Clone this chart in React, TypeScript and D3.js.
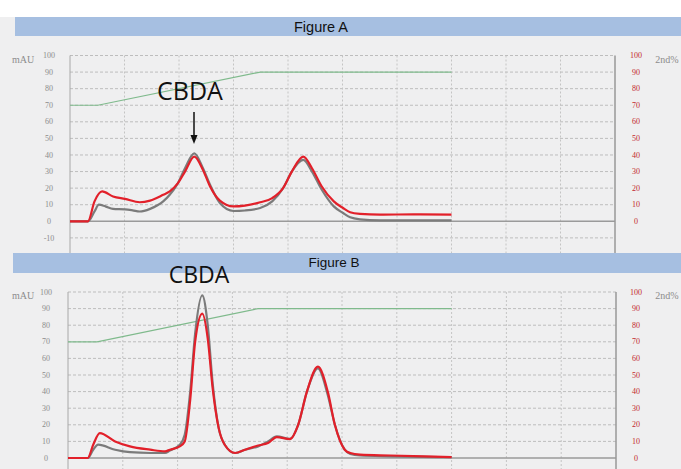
import React from 'react'
import * as d3 from 'd3'

// x in minutes (0-10 grid), y in mAU / 2nd%
const xGrid = [0, 1, 2, 3, 4, 5, 6, 7, 8, 9, 10]
const leftTicksA = [-10, 0, 10, 20, 30, 40, 50, 60, 70, 80, 90, 100]
const leftTicksB = [0, 10, 20, 30, 40, 50, 60, 70, 80, 90, 100]
const rightTicks = [0, 10, 20, 30, 40, 50, 60, 70, 80, 90, 100]
const gridA = [-20, -10, 0, 10, 20, 30, 40, 50, 60, 70, 80, 90, 100]
const gridB = [0, 10, 20, 30, 40, 50, 60, 70, 80, 90, 100]

const gradientA = [[0, 70], [0.51, 70], [3.49, 90], [7.0, 90]]
const grayA = [
  [0, 0], [0.33, 0], [0.45, 6], [0.53, 10], [0.65, 9], [0.79, 7.5], [1.01, 7.2], [1.15, 6.6],
  [1.28, 5.9], [1.47, 7.5], [1.71, 12], [1.83, 16], [1.98, 23], [2.11, 32], [2.28, 41],
  [2.44, 32], [2.57, 22], [2.75, 11], [3.0, 6.2], [3.21, 6.5], [3.49, 8], [3.71, 12],
  [3.91, 20], [4.07, 30], [4.28, 37], [4.44, 30], [4.62, 19], [4.84, 9], [5.01, 5],
  [5.14, 2.4], [5.32, 1.2], [5.69, 0.6], [7.0, 0.5],
]
const redA = [
  [0, 0], [0.33, 0], [0.45, 12], [0.59, 18], [0.79, 15], [1.01, 13.5], [1.28, 11.5],
  [1.47, 12.5], [1.71, 16], [1.83, 18], [1.98, 23], [2.11, 30], [2.28, 39], [2.44, 31],
  [2.57, 21], [2.75, 12.5], [3.0, 9], [3.21, 9.5], [3.49, 11.5], [3.71, 14], [3.91, 20],
  [4.07, 30], [4.28, 39], [4.44, 32], [4.62, 21], [4.84, 12], [5.01, 8], [5.14, 5.5],
  [5.32, 4.5], [5.69, 4], [6.3, 4.2], [7.0, 4],
]

const gradientB = [[0, 70], [0.53, 70], [3.47, 90], [7.0, 90]]
const grayB = [
  [0, 0], [0.36, 0], [0.46, 5], [0.55, 8], [0.86, 5], [1.13, 3.5], [1.5, 3], [1.77, 3],
  [1.86, 4.5], [2.04, 8], [2.13, 14], [2.23, 40], [2.32, 75], [2.45, 98], [2.55, 80],
  [2.64, 45], [2.75, 18], [2.86, 8], [3.05, 3], [3.23, 5], [3.47, 7], [3.65, 10],
  [3.81, 13], [4.05, 11.5], [4.2, 20], [4.36, 40], [4.56, 54], [4.74, 38], [4.87, 20],
  [5.05, 5], [5.15, 2.5], [5.33, 1.5], [5.88, 1], [7.0, 0.5],
]
const redB = [
  [0, 0], [0.36, 0], [0.46, 8], [0.58, 15], [0.86, 10], [1.13, 7], [1.5, 5], [1.77, 4],
  [1.86, 5], [2.04, 7], [2.13, 10], [2.23, 35], [2.32, 70], [2.45, 87], [2.55, 72],
  [2.64, 42], [2.75, 18], [2.86, 8], [3.05, 3], [3.23, 5], [3.47, 7.5], [3.65, 9],
  [3.81, 12.6], [4.05, 11.4], [4.2, 20], [4.36, 40], [4.56, 55], [4.74, 40], [4.87, 20],
  [5.05, 5], [5.15, 3], [5.33, 2], [5.88, 1.5], [7.0, 0.5],
]

const serif = '"Liberation Serif", "DejaVu Serif", serif'
const sans = '"Liberation Sans", Arial, sans-serif'

function Panel(props) {
  const { x0, x1, yTop, yZero, yBottom, leftTicks, grid, gray, red, green, leftX } = props
  const x = d3.scaleLinear().domain([0, 10]).range([x0, x1])
  const y = d3.scaleLinear().domain([0, 100]).range([yZero, yTop])
  const line = d3.line<number[]>()
    .x(d => x(d[0]))
    .y(d => y(d[1]))
    .curve(d3.curveMonotoneX)
  const lin = d3.line<number[]>().x(d => x(d[0])).y(d => y(d[1]))

  return (
    <g>
      {grid.filter(v => v !== 0).map(v => (
        <line key={'h' + v} x1={x0} x2={x1} y1={y(v)} y2={y(v)}
          stroke="#bdbdbd" strokeWidth={1} strokeDasharray="3,2" />
      ))}
      {xGrid.slice(1, -1).map(v => (
        <line key={'v' + v} x1={x(v)} x2={x(v)} y1={y(100)} y2={yBottom}
          stroke="#c4c4c4" strokeWidth={1} strokeDasharray="2,2" />
      ))}
      <line x1={x0} x2={x1} y1={y(0)} y2={y(0)} stroke="#9a9a9a" strokeWidth={1.5} />
      <line x1={x0} x2={x0} y1={y(100)} y2={yBottom} stroke="#a8a8a8" strokeWidth={1} />
      <line x1={x1} x2={x1} y1={y(100)} y2={yBottom} stroke="#999" strokeWidth={1.5} />

      <path d={lin(green) || ''} fill="none" stroke="#7fba8c" strokeWidth={1.2} />
      <path d={line(gray) || ''} fill="none" stroke="#7b7b7b" strokeWidth={2.2} />
      <path d={line(red) || ''} fill="none" stroke="#e2202a" strokeWidth={2.2} />

      {leftTicks.map(v => (
        <text key={'l' + v} x={leftX} y={y(v)} dy="0.33em" textAnchor="middle"
          fontFamily={serif} fontSize={8} fill="#8c8c8c">{v}</text>
      ))}
      {rightTicks.map(v => (
        <text key={'r' + v} x={636} y={y(v)} dy="0.33em" textAnchor="middle"
          fontFamily={serif} fontSize={8} fill="#c2282e">{v}</text>
      ))}
      <text x={23} y={y(100) + 4} dy="0.33em" textAnchor="middle" fontFamily={serif}
        fontSize={10} fill="#8c8c8c">mAU</text>
      <text x={667} y={y(100) + 4} dy="0.33em" textAnchor="middle" fontFamily={serif}
        fontSize={10} fill="#8c8c8c">2nd%</text>
    </g>
  )
}

export default function App() {
  return (
    <svg width={681} height={469} style={{ position: 'absolute', left: 0, top: 0 }}>
      <rect x={0} y={0} width={681} height={469} fill="#efeff0" />
      <rect x={0} y={0} width={681} height={17} fill="#ffffff" />

      <rect x={15} y={17} width={666} height={19} fill="#a6bfe1" />
      <text x={321} y={27} dy="0.35em" textAnchor="middle" fontFamily={sans}
        fontSize={14.5} fill="#111">Figure A</text>

      <Panel x0={70} x1={615} yTop={55.5} yZero={221.3} yBottom={253}
        leftTicks={leftTicksA} grid={gridA} gray={grayA} red={redA} green={gradientA} leftX={49} />

      <rect x={13} y={253} width={668} height={20} fill="#a6bfe1" />
      <text x={334} y={262} dy="0.35em" textAnchor="middle" fontFamily={sans}
        fontSize={13.5} fill="#111">Figure B</text>

      <Panel x0={68} x1={616} yTop={292} yZero={458} yBottom={469}
        leftTicks={leftTicksB} grid={gridB} gray={grayB} red={redB} green={gradientB} leftX={46} />

      <text x={190} y={100} textAnchor="middle" fontFamily='"Open Sans", sans-serif'
        fontSize={25} fill="#111">CBDA</text>
      <line x1={194} x2={194} y1={112} y2={136} stroke="#111" strokeWidth={1.5} />
      <path d="M190.5,135 L197.5,135 L194,144 Z" fill="#111" />

      <text x={199} y={283} textAnchor="middle" fontFamily='"Open Sans", sans-serif'
        fontSize={23} fill="#111">CBDA</text>
    </svg>
  )
}
